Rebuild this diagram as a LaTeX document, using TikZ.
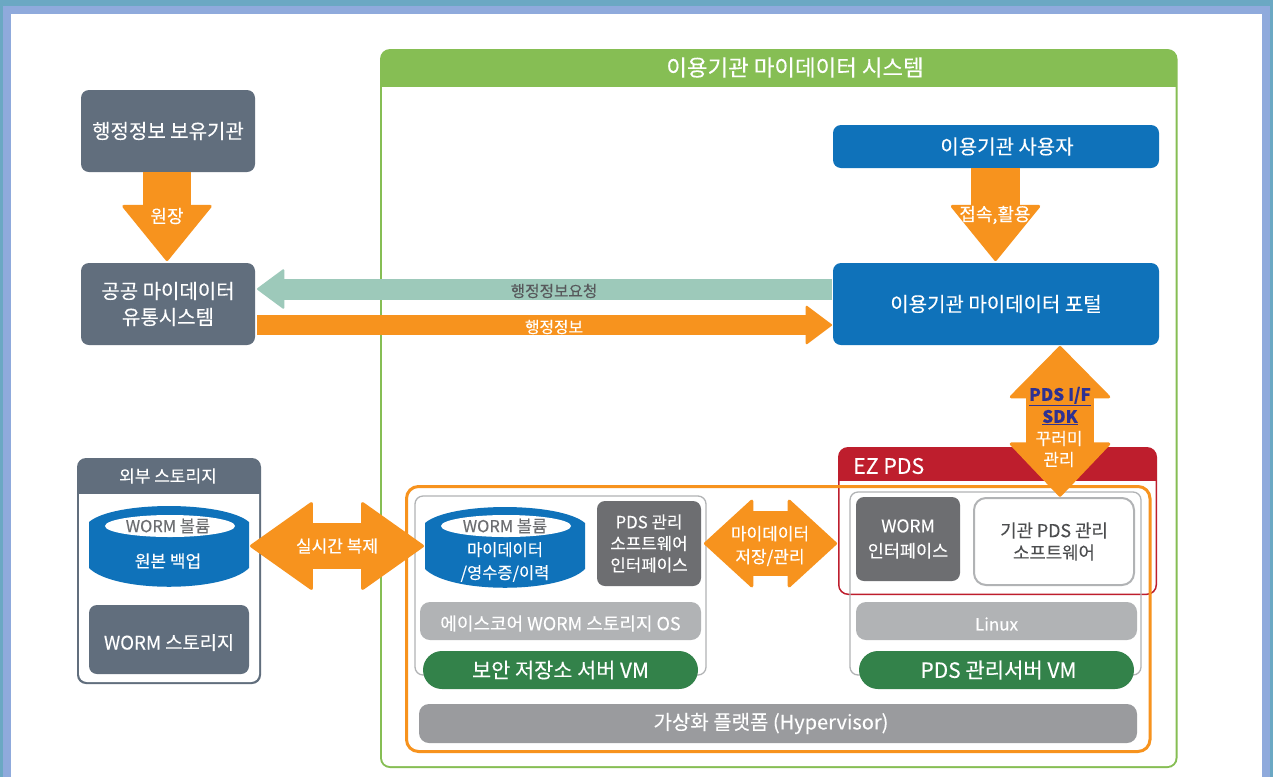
\documentclass[tikz,border=0pt]{standalone}
\usepackage{fontspec}
\setmainfont[FakeBold=0.2]{Noto Sans CJK KR}
\usetikzlibrary{arrows.meta,calc}
\definecolor{slategr}{HTML}{616E7D}
\definecolor{bluebx}{HTML}{0F72BA}
\definecolor{orng}{HTML}{F7931E}
\definecolor{grnf}{HTML}{86BE54}
\definecolor{grnb}{HTML}{33824A}
\definecolor{redb}{HTML}{BE1E2D}
\definecolor{dkg}{HTML}{6D6E71}
\definecolor{ltg}{HTML}{B1B3B5}
\definecolor{hyp}{HTML}{9A9B9E}
\definecolor{tealarr}{HTML}{9DC9BA}
\definecolor{navy}{HTML}{2E3192}
\tikzset{
  x=1pt,y=-1pt,
  lab/.style={text=white,align=center,font=\fontsize{20}{26}\selectfont,inner sep=0pt},
  smlab/.style={text=white,align=center,font=\fontsize{17}{22}\selectfont,inner sep=0pt},
  anch/.style={inner sep=0pt,outer sep=0pt,minimum size=0pt},
}
% \bx{name}{x0}{y0}{x1}{y1}{radius}{fill}{text style}{text}
\newcommand\bx[9]{%
  \fill[#7,rounded corners=#6] (#2,#3) rectangle (#4,#5);
  \node[anch,#8,minimum width=#4pt-#2pt,minimum height=#5pt-#3pt] (#1) at ({(#2+#4)/2},{(#3+#5)/2}) {#9};
}
\newcommand\diskshape[3]{% x0, x1, ytop
  \fill[bluebx] (#1,#3+16) .. controls (#1+25,#3-5.3) and (#2-25,#3-5.3) .. (#2,#3+16)
    -- (#2,#3+62) .. controls (#2-25,#3+87) and (#1+25,#3+87) .. (#1,#3+62) -- cycle;
}
\begin{document}
\begin{tikzpicture}
\useasboundingbox (0,0) rectangle (1273,777);
% background
\fill[color={rgb,255:red,107;green,168;blue,195}] (0,0) rectangle (1273,777);
\fill[color={rgb,255:red,143;green,170;blue,220}] (3,6) rectangle (1270,777);
\fill[white] (11,14) rectangle (1262,777);
% green frame
\fill[grnf,rounded corners=10] (380,49) rectangle (1177.5,768);
\fill[white,rounded corners=8] (382,60) rectangle (1175.5,766);
\fill[grnf] (381,60) rectangle (1176.5,87);
\node[lab,font=\fontsize{22.4}{24}\selectfont] (tgreen) at (795,67.5) {이용기관 마이데이터 시스템};
% left boxes
\bx{hold}{81}{90}{255}{172}{8}{slategr}{lab}{행정정보 보유기관}
\bx{pub}{81}{263}{255}{345}{8}{slategr}{lab}{공공 마이데이터\\유통시스템}
\bx{user}{833}{125}{1159}{168}{8}{bluebx}{lab}{}
\node[lab] (tuser) at (1007,146.5) {이용기관 사용자};
\bx{portal}{833}{263}{1159}{345}{8}{bluebx}{lab}{이용기관 마이데이터 포털}
% outer storage
\fill[slategr,rounded corners=9] (77,458) rectangle (261,684);
\fill[white,rounded corners=8] (79,480) rectangle (259,682);
\fill[slategr] (78,480) rectangle (260,494);
\node[smlab] (ext) at (168,476) {외부 스토리지};
\diskshape{89}{249}{506}
\fill[white] (170,526) ellipse [x radius=65,y radius=11];
\node[anch,minimum width=160pt,minimum height=81pt] (disk1) at (169,546) {};
\node[smlab,text=dkg,font=\fontsize{16.5}{22}\selectfont] (d1a) at (168,526) {WORM 볼륨};
\node[smlab] (d1b) at (168,561) {원본 백업};
\bx{wst}{89}{605}{249}{674}{8}{slategr}{smlab,font=\fontsize{18.7}{22}\selectfont,yshift=-3pt}{WORM 스토리지}
% EZ PDS frame
\fill[redb,rounded corners=10] (838,447) rectangle (1157,595);
\fill[white,rounded corners=9] (839.5,470) rectangle (1155.5,593.5);
\fill[redb] (839,470) rectangle (1156,481);
\node[lab,anchor=west,font=\fontsize{21.3}{24}\selectfont] (ez) at (853,466) {EZ PDS};
% inner gray frames
\draw[ltg,line width=1.3pt,rounded corners=8] (415,496) rectangle (706,675);
\draw[ltg,line width=1.3pt,rounded corners=8] (850,492) rectangle (1141,675);
% orange frame
\draw[orng,line width=3pt,rounded corners=12] (406.5,486.5) rectangle (1150,751.5);
% disk 2
\diskshape{425}{585}{507}
\fill[white] (506,526) ellipse [x radius=65,y radius=11];
\node[anch,minimum width=160pt,minimum height=80pt] (disk2) at (505,546) {};
\node[smlab,text=dkg,font=\fontsize{16.5}{22}\selectfont] (d2a) at (505,526) {WORM 볼륨};
\node[smlab,font=\fontsize{16.5}{23}\selectfont] (d2b) at (505,562) {마이데이터\\/영수증/이력};
\bx{pif}{597}{501}{701}{586}{8}{dkg}{smlab,font=\fontsize{16.8}{21.5}\selectfont}{PDS 관리\\소프트웨어\\인터페이스}
\bx{wif}{856}{497}{960}{581}{8}{dkg}{lab,font=\fontsize{17.5}{25}\selectfont}{WORM\\인터페이스}
\fill[white,draw=ltg,line width=2pt,rounded corners=12] (974,498) rectangle (1134,585);
\node[smlab,text=dkg!70!black,font=\fontsize{17.8}{22}\selectfont,minimum width=160pt,minimum height=87pt] (sw) at (1054,541.5) {기관 PDS 관리\\소프트웨어};
\bx{os1}{420}{602}{701}{640}{10}{ltg}{smlab,font=\fontsize{18}{22}\selectfont,yshift=-2.5pt}{에이스코어 WORM 스토리지 OS}
\bx{os2}{856}{602}{1137}{640}{10}{ltg}{smlab,yshift=-3pt}{Linux}
\bx{vm1}{423}{651}{698}{689}{19}{grnb}{lab,font=\fontsize{20.8}{24}\selectfont}{보안 저장소 서버 VM}
\bx{vm2}{859}{651}{1134}{689}{19}{grnb}{lab,font=\fontsize{21}{24}\selectfont,xshift=2pt}{PDS 관리서버 VM}
\bx{hv}{419}{704}{1137}{743}{10}{hyp}{lab,xshift=-7pt}{가상화 플랫폼 (Hypervisor)}
% block arrows
\draw[orng,line width=48pt,-{Triangle[round,line width=3pt,length=57pt,width=92pt]}] ([xshift=-1pt]hold.south) -- ([xshift=-1pt,yshift=2pt]pub.north);
\node[smlab,font=\fontsize{18}{22}\selectfont] (t1) at (167,216) {원장};
\draw[orng,line width=49pt,-{Triangle[round,line width=3pt,length=57pt,width=92pt]}] ([xshift=-0.5pt]user.south) -- ([xshift=-0.5pt,yshift=2pt]portal.north);
\node[smlab,font=\fontsize{18}{22}\selectfont] (t2) at (995,215) {접속,활용};
\coordinate (pubu) at ($(pub.east)+(0,-15)$);
\coordinate (pubd) at ($(pub.east)+(0,21)$);
\draw[tealarr,line width=21pt,-{Triangle[round,line width=2pt,length=28pt,width=41pt]}] ([xshift=-1pt]portal.west|-pubu) -- ([xshift=2pt]pubu);
\node[font=\fontsize{15.7}{20}\selectfont,text=dkg!80!black,inner sep=0pt] (t3) at (554,291) {행정정보요청};
\draw[orng,line width=20pt,-{Triangle[round,line width=2pt,length=27pt,width=40pt]}] ([xshift=2pt]pubd) -- ([xshift=-1pt]portal.west|-pubd);
\node[font=\fontsize{15.8}{20}\selectfont,text=white,inner sep=0pt] (t4) at (554,327) {행정정보};
% double arrows
\coordinate (pdsb) at ($(sw.north)+(6,-1)$);
\coordinate (pdst) at ($(portal.south)+(0,1)$);
\draw[orng,line width=68pt,{Triangle[round,line width=3pt,length=53pt,width=104pt]}-{Triangle[round,line width=3pt,length=55pt,width=104pt]}] (pdsb|-pdst) -- (pdsb);
\node[font=\bfseries\fontsize{17}{22}\selectfont,text=navy,align=center,inner sep=0pt] (t5) at (1060,406) {\underline{PDS I/F}\\\underline{SDK}};
\node[smlab,font=\fontsize{17}{21}\selectfont] (t6) at (1059,449) {꾸러미\\관리};
\draw[orng,line width=46pt,{Triangle[round,line width=3pt,length=64pt,width=90pt]}-{Triangle[round,line width=3pt,length=64pt,width=90pt]}] ([xshift=1pt]disk1.east) -- ([xshift=-1pt]disk2.west);
\node[smlab] (t7) at (337,546) {실시간 복제};
\coordinate (wl) at (wif.west|-pif.east);
\draw[orng,line width=65pt,{Triangle[round,line width=3pt,length=50pt,width=91pt]}-{Triangle[round,line width=3pt,length=50pt,width=91pt]}] ([xshift=3pt]pif.east) -- ([xshift=-19pt]wl);
\node[smlab,font=\fontsize{17}{23}\selectfont] (t8) at (770,546) {마이데이터\\저장/관리};
\end{tikzpicture}
\end{document}
